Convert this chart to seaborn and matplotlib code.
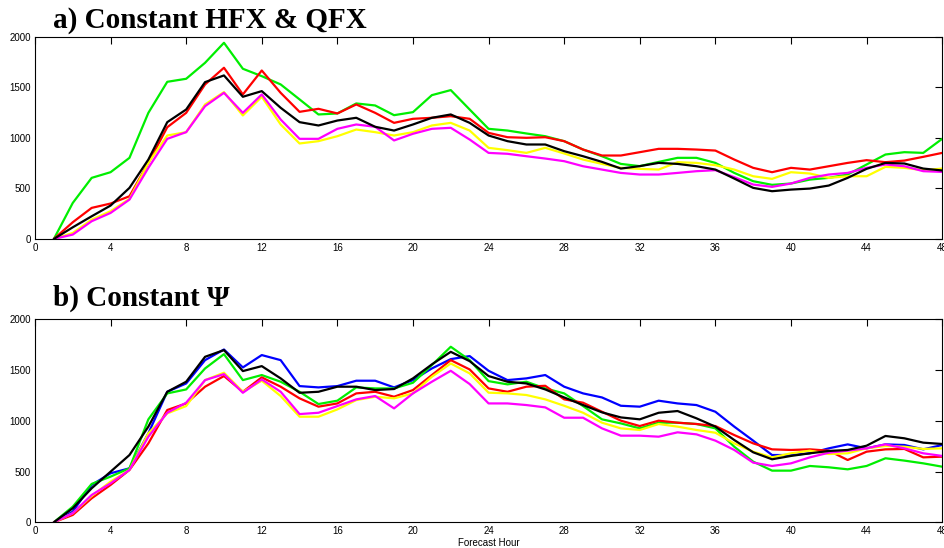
import seaborn as sns
import matplotlib
matplotlib.use('Agg')
import matplotlib.pyplot as plt
import numpy as np
import pandas as pd

hours = list(range(1, 49))

# panel a) constant HFX & QFX
a_green = [0, 356, 604, 660, 802, 1247, 1554, 1584, 1742, 1940, 1683, 1610, 1528, 1380,
           1231, 1241, 1340, 1320, 1224, 1254, 1422, 1472, 1280, 1089, 1072, 1043, 1016, 967,
           884, 818, 742, 720, 762, 802, 802, 752, 653, 571, 535, 548, 587, 604, 637, 736,
           835, 858, 851, 990]
a_red = [0, 165, 307, 350, 422, 752, 1105, 1247, 1528, 1693, 1429, 1666, 1445, 1257,
         1287, 1241, 1330, 1247, 1148, 1188, 1198, 1214, 1188, 1049, 1006, 1000, 1006, 967,
         884, 825, 825, 858, 891, 891, 884, 874, 785, 703, 660, 703, 686, 719, 752, 779,
         759, 775, 812, 851]
a_yellow = [0, 59, 191, 274, 396, 752, 1023, 1056, 1330, 1452, 1221, 1406, 1132, 944,
            967, 1016, 1082, 1056, 1023, 1056, 1122, 1148, 1072, 901, 878, 851, 901, 845,
            785, 742, 703, 693, 686, 759, 752, 729, 686, 620, 594, 660, 647, 604, 620, 620,
            713, 703, 680, 696]
a_magenta = [0, 43, 175, 257, 389, 703, 990, 1056, 1313, 1445, 1247, 1429, 1181, 990,
             990, 1089, 1132, 1109, 974, 1040, 1089, 1099, 983, 851, 842, 818, 795, 769,
             719, 686, 653, 637, 637, 653, 670, 680, 611, 538, 515, 548, 604, 637, 653, 703,
             736, 719, 670, 663]
a_black = [0, 115, 224, 330, 505, 785, 1155, 1280, 1551, 1617, 1406, 1462, 1297, 1155,
           1122, 1171, 1198, 1109, 1072, 1132, 1198, 1231, 1148, 1023, 967, 934, 934, 868,
           818, 762, 696, 720, 752, 742, 719, 686, 597, 505, 472, 488, 498, 528, 604, 693,
           752, 746, 696, 677]

# panel b) constant psi
b_blue = [0, 105, 368, 483, 532, 877, 1287, 1369, 1599, 1704, 1527, 1649, 1599, 1343,
          1330, 1343, 1396, 1396, 1330, 1402, 1517, 1609, 1639, 1494, 1402, 1419, 1452, 1337,
          1271, 1231, 1149, 1140, 1199, 1172, 1156, 1090, 943, 805, 663, 663, 680, 729, 768,
          729, 768, 762, 719, 762]
b_green = [0, 154, 378, 450, 532, 1015, 1271, 1310, 1517, 1658, 1402, 1452, 1386, 1287,
           1166, 1199, 1330, 1320, 1320, 1376, 1550, 1731, 1599, 1392, 1360, 1386, 1320, 1271,
           1146, 1015, 975, 926, 982, 982, 969, 926, 745, 598, 509, 509, 555, 542, 522, 555,
           631, 608, 581, 548]
b_red = [0, 72, 236, 368, 516, 778, 1107, 1172, 1337, 1442, 1287, 1429, 1337, 1222,
         1140, 1172, 1271, 1287, 1238, 1304, 1452, 1599, 1507, 1320, 1287, 1337, 1346, 1212,
         1179, 1090, 1002, 949, 1002, 982, 969, 949, 860, 778, 719, 713, 719, 706, 614, 696,
         719, 723, 640, 647]
b_yellow = [0, 89, 259, 401, 516, 877, 1074, 1146, 1402, 1475, 1287, 1396, 1245, 1041,
            1041, 1113, 1205, 1238, 1222, 1271, 1435, 1566, 1468, 1278, 1271, 1255, 1212, 1149,
            1080, 982, 926, 910, 969, 943, 910, 883, 778, 696, 640, 680, 706, 673, 680, 729,
            752, 745, 723, 729]
b_magenta = [0, 89, 269, 384, 516, 844, 1080, 1179, 1402, 1461, 1277, 1409, 1287, 1067,
             1080, 1146, 1212, 1245, 1123, 1271, 1386, 1494, 1363, 1172, 1172, 1156, 1133, 1031,
             1031, 926, 854, 854, 844, 887, 867, 805, 713, 588, 555, 581, 640, 686, 706, 729,
             768, 729, 680, 654]
b_black = [0, 138, 335, 499, 663, 943, 1287, 1386, 1632, 1698, 1491, 1540, 1419, 1277,
           1287, 1337, 1337, 1304, 1314, 1419, 1557, 1681, 1589, 1442, 1386, 1369, 1310, 1231,
           1156, 1084, 1034, 1015, 1080, 1097, 1025, 943, 811, 690, 621, 654, 680, 703, 713,
           755, 851, 828, 785, 772]

panel_a = [(a_green, '#00ee00'), (a_red, '#ff0000'), (a_yellow, '#ffff00'),
           (a_magenta, '#ff00ff'), (a_black, '#000000')]
panel_b = [(b_blue, '#0000ff'), (b_green, '#00ee00'), (b_red, '#ff0000'),
           (b_yellow, '#ffff00'), (b_magenta, '#ff00ff'), (b_black, '#000000')]

sns.set_style('white')
plt.rcParams['font.family'] = ['Liberation Sans', 'DejaVu Sans']
plt.rcParams['text.color'] = 'black'
plt.rcParams['axes.labelcolor'] = 'black'

fig = plt.figure(figsize=(9.45, 5.48), dpi=100)
ax1 = fig.add_axes([0.037, 0.564, 0.960, 0.369])
ax2 = fig.add_axes([0.037, 0.047, 0.960, 0.370])

for ax, series in [(ax1, panel_a), (ax2, panel_b)]:
    for vals, col in series:
        sns.lineplot(x=hours, y=vals, color=col, lw=1.6, ax=ax)
    ax.set_xlim(0, 48)
    ax.set_ylim(0, 2000)
    ax.set_xticks(range(0, 49, 4))
    ax.set_yticks(range(0, 2001, 500))
    ax.tick_params(direction='in', length=5, width=0.8, top=True, right=True,
                   labelsize=7, pad=3, colors='black')
    for s in ax.spines.values():
        s.set_color('black')
        s.set_linewidth(0.8)

ax2.set_xlabel('Forecast Hour', fontsize=7, labelpad=1, color='black')

fig.text(0.056, 0.963, 'a) Constant HFX & QFX', fontsize=21, fontweight='bold',
         family=['Liberation Serif', 'DejaVu Serif'], va='center', color='black')
fig.text(0.056, 0.456, 'b) Constant \u03a8', fontsize=21, fontweight='bold',
         family=['Liberation Serif', 'DejaVu Serif'], va='center', color='black')

fig.savefig('out.png', dpi=100)
